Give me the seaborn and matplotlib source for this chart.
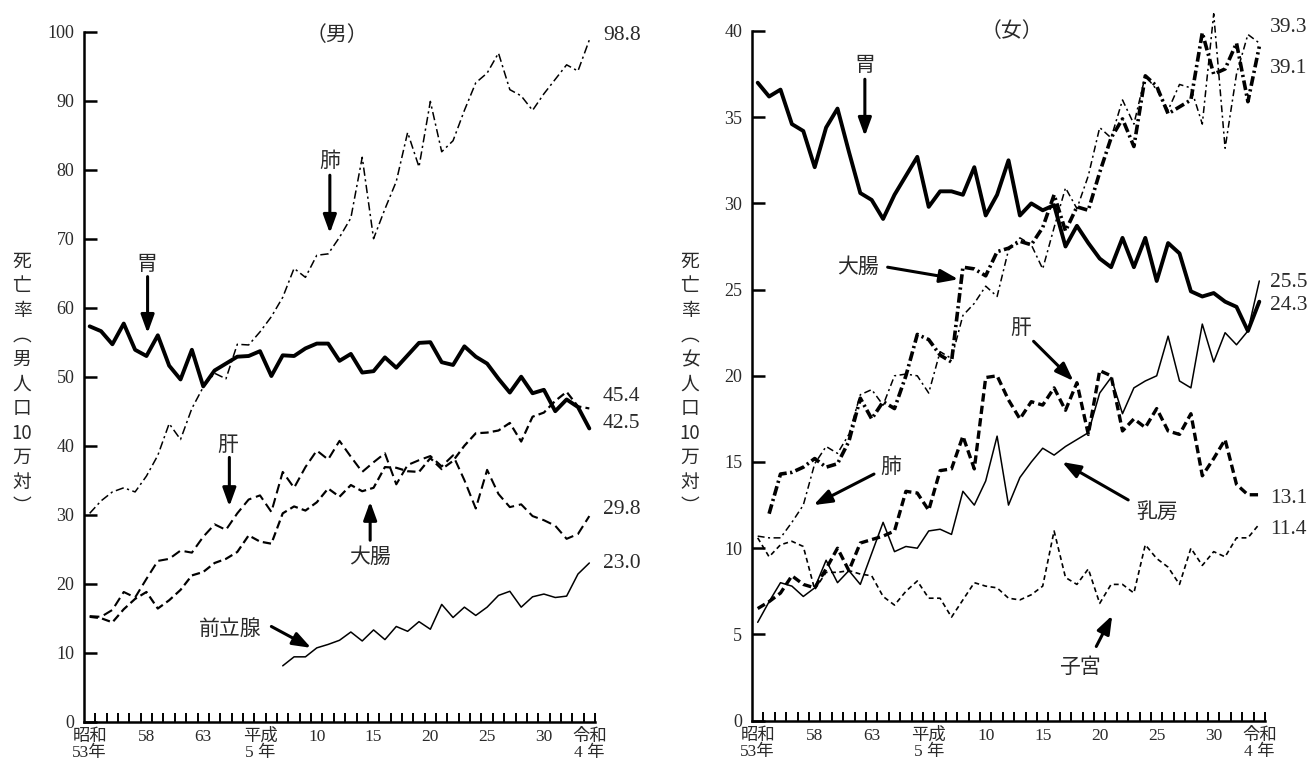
import numpy as np
import pandas as pd
import matplotlib
matplotlib.use("Agg")
import matplotlib.pyplot as plt
import seaborn as sns

# ---------------- data ----------------
years = list(range(1978, 2023))
nan = np.nan

tick_years = [1978, 1983, 1988, 1993, 1998, 2003, 2008, 2013, 2018, 2022]
tick_labels = ["昭和\n53年", "58", "63", "平成\n5 年", "10", "15", "20", "25", "30", "令和\n4 年"]

# male (男)
m_stomach = [57.3, 56.6, 54.7, 57.7, 53.9, 53.0, 56.0, 51.6, 49.6, 53.9, 48.6, 50.9, 51.9, 52.9, 53.0,
             53.7, 50.1, 53.1, 53.0, 54.1, 54.8, 54.8, 52.3, 53.3, 50.6, 50.8, 52.8, 51.3, 53.1, 54.9,
             55.0, 52.1, 51.7, 54.4, 52.9, 51.9, 49.7, 47.7, 50.0, 47.6, 48.1, 45.0, 46.7, 45.6, 42.5]
m_lung = [30.2, 32.0, 33.3, 33.9, 33.3, 35.6, 38.6, 43.2, 40.9, 45.4, 48.5, 50.5, 49.7, 54.7, 54.6,
          56.5, 58.7, 61.5, 65.7, 64.4, 67.6, 67.8, 70.2, 73.0, 81.8, 70.0, 74.3, 78.3, 85.4, 80.4,
          89.9, 82.6, 84.2, 88.6, 92.6, 94.0, 96.9, 91.6, 90.7, 88.6, 91.0, 93.1, 95.2, 94.3, 98.8]
m_liver = [15.3, 15.2, 16.2, 18.8, 18.0, 20.7, 23.3, 23.6, 24.8, 24.5, 26.8, 28.6, 27.8, 30.2, 32.2,
           32.8, 30.4, 36.2, 33.9, 36.9, 39.3, 38.0, 40.7, 38.4, 36.2, 37.6, 38.9, 34.4, 37.2, 37.9,
           38.5, 37.0, 38.6, 35.0, 30.9, 36.5, 33.0, 31.1, 31.5, 29.8, 29.2, 28.4, 26.5, 27.2, 29.8]
m_colon = [15.2, 15.0, 14.4, 16.3, 17.8, 18.8, 16.4, 17.6, 19.1, 21.2, 21.7, 23.0, 23.6, 24.6, 27.0,
           26.1, 25.8, 30.2, 31.2, 30.6, 31.8, 33.8, 32.6, 34.3, 33.4, 33.9, 36.9, 36.8, 36.3, 36.2,
           38.2, 36.6, 37.8, 40.0, 41.8, 41.9, 42.2, 43.3, 40.6, 44.2, 44.8, 46.5, 47.8, 45.7, 45.4]
m_prostate = [nan] * 17 + [8.1, 9.4, 9.4, 10.7, 11.2, 11.8, 13.0, 11.7, 13.3, 11.9, 13.8, 13.1, 14.5,
                           13.4, 17.0, 15.1, 16.6, 15.4, 16.6, 18.3, 18.9, 16.6, 18.1, 18.5, 18.0, 18.2,
                           21.4, 23.0]

# female (女)
f_stomach = [37.0, 36.2, 36.6, 34.6, 34.2, 32.1, 34.4, 35.5, 33.0, 30.6, 30.2, 29.1, 30.5, 31.6, 32.7,
             29.8, 30.7, 30.7, 30.5, 32.1, 29.3, 30.5, 32.5, 29.3, 30.0, 29.6, 29.9, 27.5, 28.7, 27.7,
             26.8, 26.3, 28.0, 26.3, 28.0, 25.5, 27.7, 27.1, 24.9, 24.6, 24.8, 24.3, 24.0, 22.6, 24.3]
f_colon = [nan, 12.0, 14.3, 14.4, 14.7, 15.2, 14.7, 14.9, 16.2, 18.7, 17.5, 18.5, 18.1, 20.0, 22.4,
           22.1, 21.2, 20.8, 26.3, 26.2, 25.8, 27.2, 27.4, 27.8, 27.6, 28.6, 30.5, 28.4, 29.8, 29.6,
           31.8, 33.8, 34.9, 33.3, 37.4, 36.8, 35.2, 35.6, 36.0, 39.9, 37.5, 37.8, 39.3, 35.9, 39.1]
f_lung = [10.7, 10.6, 10.6, 11.5, 12.5, 14.9, 15.9, 15.5, 16.6, 18.9, 19.2, 18.3, 20.0, 20.1, 20.0,
          19.0, 21.4, 21.0, 23.5, 24.2, 25.2, 24.6, 27.3, 28.0, 27.6, 26.2, 28.6, 30.9, 29.7, 31.6,
          34.4, 33.8, 36.0, 34.6, 37.4, 36.6, 35.4, 36.9, 36.7, 34.6, 41.0, 33.2, 37.5, 39.8, 39.3]
f_liver = [6.5, 6.9, 7.4, 8.4, 7.9, 7.7, 8.8, 10.0, 8.7, 10.3, 10.5, 10.7, 11.0, 13.3, 13.2,
           12.2, 14.5, 14.6, 16.5, 14.6, 19.9, 20.0, 18.6, 17.5, 18.5, 18.3, 19.3, 18.0, 19.6, 16.6,
           20.3, 20.0, 16.8, 17.5, 17.0, 18.1, 16.8, 16.6, 17.8, 14.2, 15.2, 16.3, 13.7, 13.1, 13.1]
f_breast = [5.7, 6.9, 8.0, 7.8, 7.2, 7.7, 9.3, 8.0, 8.7, 7.9, 9.7, 11.5, 9.8, 10.1, 10.0,
            11.0, 11.1, 10.8, 13.3, 12.5, 13.9, 16.5, 12.5, 14.1, 15.0, 15.8, 15.4, 15.9, 16.3, 16.7,
            19.0, 19.9, 17.8, 19.3, 19.7, 20.0, 22.3, 19.7, 19.3, 23.0, 20.8, 22.5, 21.8, 22.6, 25.5]
f_uterus = [10.6, 9.5, 10.2, 10.4, 10.1, 7.6, 8.6, 8.6, 8.7, 8.5, 8.4, 7.2, 6.7, 7.5, 8.1,
            7.1, 7.1, 6.0, 7.0, 8.0, 7.8, 7.7, 7.1, 7.0, 7.3, 7.8, 11.0, 8.3, 7.9, 8.8,
            6.8, 7.9, 7.9, 7.4, 10.2, 9.4, 8.9, 7.9, 10.0, 9.0, 9.8, 9.5, 10.6, 10.6, 11.4]

# ---------------- style ----------------
sns.set_theme(style="ticks")
plt.rcParams['font.family'] = ['Liberation Serif', 'Noto Sans CJK JP', 'DejaVu Sans']
plt.rcParams['lines.scale_dashes'] = False

TXT = '#2a2a2a'
CJK = ['Noto Sans CJK JP', 'DejaVu Sans']
SERIF = ['Liberation Serif', 'Noto Sans CJK JP']

fig = plt.figure(figsize=(13.08, 7.67), dpi=100)
W, H = 1308, 767
axL = fig.add_axes([84 / W, 1 - 721.7 / H, (595 - 84) / W, (721.7 - 31.7) / H])
axR = fig.add_axes([752 / W, 1 - 720.6 / H, (1265 - 752) / W, (720.6 - 31.0) / H])


def draw(ax, vals, lw, ls):
    df = pd.DataFrame({"year": years, "rate": vals}).dropna()
    sns.lineplot(data=df, x="year", y="rate", ax=ax, color="black", linewidth=lw,
                 linestyle=ls, estimator=None, errorbar=None, clip_on=False)


def setup(ax, ymax, ystep):
    ax.set_xlim(1977.5, 2022.5)
    ax.set_ylim(0, ymax)
    ax.set_xlabel("")
    ax.set_ylabel("")
    ax.set_facecolor('none')
    for s in ['top', 'right']:
        ax.spines[s].set_visible(False)
    for s in ['left', 'bottom']:
        ax.spines[s].set_linewidth(1.8)
        ax.spines[s].set_color('black')
    yt = np.arange(0, ymax + 0.01, ystep)
    ax.set_yticks(yt)
    ax.set_yticklabels([f"{int(v)}" for v in yt], fontfamily=SERIF, fontsize=13)
    ax.tick_params(axis='y', which='major', direction='in', length=9, width=1.8, pad=7,
                   left=True, labelcolor=TXT, color='black')
    ax.set_xticks(tick_years)
    ax.set_xticklabels(tick_labels, fontfamily=SERIF, fontsize=12.5, linespacing=1.0)
    ax.tick_params(axis='x', which='major', length=0, pad=5, labelcolor=TXT)
    ax.set_xticks(np.arange(1978.5, 2022.6, 1.0), minor=True)
    ax.tick_params(axis='x', which='minor', direction='in', length=6.5, width=1.4,
                   bottom=True, color='black')
    ax.tick_params(axis='y', which='minor', left=False)


def arrow(ax, start, tip):
    ax.annotate('', xy=tip, xytext=start,
                arrowprops=dict(arrowstyle='-|>,head_length=0.55,head_width=0.2',
                                lw=2.2, color='black', shrinkA=0, shrinkB=0,
                                mutation_scale=20))


def label(ax, x, y, s, size=15):
    ax.text(x, y, s, ha='center', va='center', fontsize=size, fontfamily=CJK, color=TXT)


def endval(ax, x, y, s):
    ax.text(x, y, s, ha='left', va='center', fontsize=15.5, fontfamily=SERIF,
            color=TXT, clip_on=False)


# ---------------- male panel ----------------
draw(axL, m_stomach, 2.8, '-')
draw(axL, m_lung, 1.1, (0, (6, 2.5, 1.6, 2.5)))
draw(axL, m_liver, 1.5, (0, (7, 3.5)))
draw(axL, m_colon, 1.6, (0, (6, 3)))
draw(axL, m_prostate, 1.1, '-')
setup(axL, 100, 10)

label(axL, 1983.0, 66.4, "胃")
arrow(axL, (1983.1, 64.5), (1983.1, 56.3))
label(axL, 1999.15, 81.2, "肺")
arrow(axL, (1999.15, 79.2), (1999.15, 70.8))
label(axL, 1990.2, 40.1, "肝")
arrow(axL, (1990.3, 38.3), (1990.3, 31.2))
label(axL, 2002.7, 23.9, "大腸")
arrow(axL, (2002.7, 26.3), (2002.7, 31.9))
label(axL, 1990.4, 13.4, "前立腺")
arrow(axL, (1994.0, 13.8), (1997.5, 10.7))

endval(axL, 2023.2, 99.5, "98.8")
endval(axL, 2023.2, 47.1, "45.4")
endval(axL, 2023.2, 43.2, "42.5")
endval(axL, 2023.2, 30.8, "29.8")
endval(axL, 2023.2, 22.9, "23.0")

axL.text(0.495, 0.995, "（男）", transform=axL.transAxes, ha='center', va='center',
         fontsize=15, fontfamily=CJK, color=TXT)

# ---------------- female panel ----------------
draw(axR, f_stomach, 2.8, '-')
draw(axR, f_colon, 2.6, (0, (7, 2.5, 1.6, 2.5)))
draw(axR, f_lung, 1.1, (0, (5, 2.5, 1.5, 2.5)))
draw(axR, f_liver, 2.4, (0, (6, 3)))
draw(axR, f_breast, 1.1, '-')
draw(axR, f_uterus, 1.2, (0, (3.5, 2.5)))
setup(axR, 40, 5)

label(axR, 1987.4, 38.0, "胃")
arrow(axR, (1987.4, 37.2), (1987.4, 33.9))
label(axR, 1986.8, 26.3, "大腸")
arrow(axR, (1989.4, 26.3), (1995.6, 25.6))
label(axR, 2001.1, 22.8, "肝")
arrow(axR, (2002.2, 22.0), (2005.7, 19.7))
label(axR, 1989.7, 14.7, "肺")
arrow(axR, (1988.2, 14.3), (1982.9, 12.5))
label(axR, 2013.0, 12.1, "乳房")
arrow(axR, (2010.5, 12.8), (2004.7, 15.0))
label(axR, 2006.3, 3.1, "子宮")
arrow(axR, (2007.7, 4.3), (2009.1, 6.1))

endval(axR, 2022.95, 40.2, "39.3")
endval(axR, 2022.95, 37.8, "39.1")
endval(axR, 2022.95, 25.4, "25.5")
endval(axR, 2022.95, 24.1, "24.3")
endval(axR, 2022.95, 12.9, "13.1")
endval(axR, 2022.95, 11.1, "11.4")

axR.text(0.506, 1.0, "（女）", transform=axR.transAxes, ha='center', va='center',
         fontsize=15, fontfamily=CJK, color=TXT)

# ---------------- vertical y-axis titles ----------------
ylab_m = "\n".join(["死", "亡", "率", "︵", "男", "人", "口", "10", "万", "対", "︶"])
ylab_f = "\n".join(["死", "亡", "率", "︵", "女", "人", "口", "10", "万", "対", "︶"])
fig.text(22 / W, 1 - 384 / H, ylab_m, ha='center', va='center', fontsize=13.5,
         fontfamily=CJK, color=TXT, linespacing=1.22)
fig.text(690 / W, 1 - 384 / H, ylab_f, ha='center', va='center', fontsize=13.5,
         fontfamily=CJK, color=TXT, linespacing=1.22)

fig.savefig("out.png", dpi=100, facecolor='white')
